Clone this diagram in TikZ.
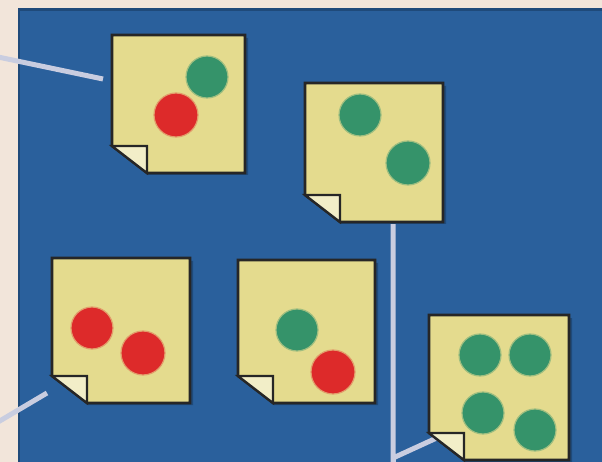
\documentclass[tikz,border=0pt]{standalone}
\usepackage{xcolor}
\usepackage{tikz}
\usetikzlibrary{calc,positioning}
\definecolor{boardblue}{HTML}{2A609C}
\definecolor{boardedge}{HTML}{1F4A7A}
\definecolor{marginx}{HTML}{F2E5DA}
\definecolor{paperx}{HTML}{E4DB8E}
\definecolor{foldx}{HTML}{F2EEC8}
\definecolor{greenx}{HTML}{35936A}
\definecolor{redx}{HTML}{DD2A2A}
\definecolor{wirex}{HTML}{C9CDE0}
\pgfdeclarelayer{board}
\pgfdeclarelayer{wires}
\pgfsetlayers{board,wires,main}
\tikzset{
  wire/.style={draw=wirex,line width=5pt},
  gdot/.style={fill=greenx,draw=greenx!40!paperx,line width=1.2pt},
  rdot/.style={fill=redx,draw=redx!35!paperx,line width=1.2pt},
  notebox/.style={draw=black!85,line width=2.6pt,fill=paperx,line join=miter}
}
% #1 name, (#2,#3) top left, (#4,#5) bottom right
\newcommand{\notepad}[5]{%
  \fill[boardedge] (#2+3,#3+3)--(#4+3,#3+3)--(#4+3,#5+2)--(#2+36,#5+2)--cycle;
  \draw[notebox] (#2,#3)--(#4,#3)--(#4,#5)--(#2+35,#5)--(#2,#5-27)--cycle;
  \filldraw[fill=foldx,draw=black!85,line width=2.2pt,line join=miter] (#2,#5-27)--(#2+35,#5-27)--(#2+35,#5)--cycle;
  \pgfmathsetmacro\nw{#4-#2}\pgfmathsetmacro\nh{#5-#3}
  \node[inner sep=0pt,minimum width=\nw pt,minimum height=\nh pt] (#1) at ($(#2,#3)!0.5!(#4,#5)$) {};}

\begin{document}
\begin{tikzpicture}[x=1pt,y=-1pt]
\useasboundingbox (0,0) rectangle (602,462);
\begin{pgfonlayer}{board}
\fill[marginx] (0,0) rectangle (602,462);
\fill[boardedge] (18,8) rectangle (602,462);
\fill[boardblue] (20,11) rectangle (602,462);
\end{pgfonlayer}

% the five notes
\notepad{nA}{112}{35}{245}{173}
\notepad{nB}{305}{83}{443}{222}
\notepad{nC}{52}{258}{190}{403}
\notepad{nD}{238}{260}{375}{403}
\notepad{nE}{429}{315}{569}{460}

% dots
\path[gdot] (207,77) circle (21pt);
\path[rdot] (176,115) circle (22pt);
\path[gdot] (360,115) circle (21pt);
\path[gdot] (408,163) circle (22pt);
\path[rdot] (92,328) circle (21pt);
\path[rdot] (143,353) circle (22pt);
\path[gdot] (297,330) circle (21pt);
\path[rdot] (333,372) circle (22pt);
\path[gdot] (480,355) circle (21pt);
\path[gdot] (530,355) circle (21pt);
\path[gdot] (483,413) circle (21pt);
\path[gdot] (535,430) circle (21pt);

% wires
\coordinate (inA) at (-2,57);
\coordinate (tipA) at (103,79);
\coordinate (inC) at (-2,422);
\coordinate (tipC) at (47,393);
\coordinate (drop) at (393,458);
\coordinate (tipE) at (441,436);
\begin{pgfonlayer}{wires}
\draw[wire] (inA)--(tipA);
\draw[wire] (inC)--(tipC);
\draw[wire,line join=miter] (nB.south -| drop)--(drop)--(tipE);
\draw[wire] (drop)--(393,470);
\end{pgfonlayer}
\end{tikzpicture}
\end{document}
